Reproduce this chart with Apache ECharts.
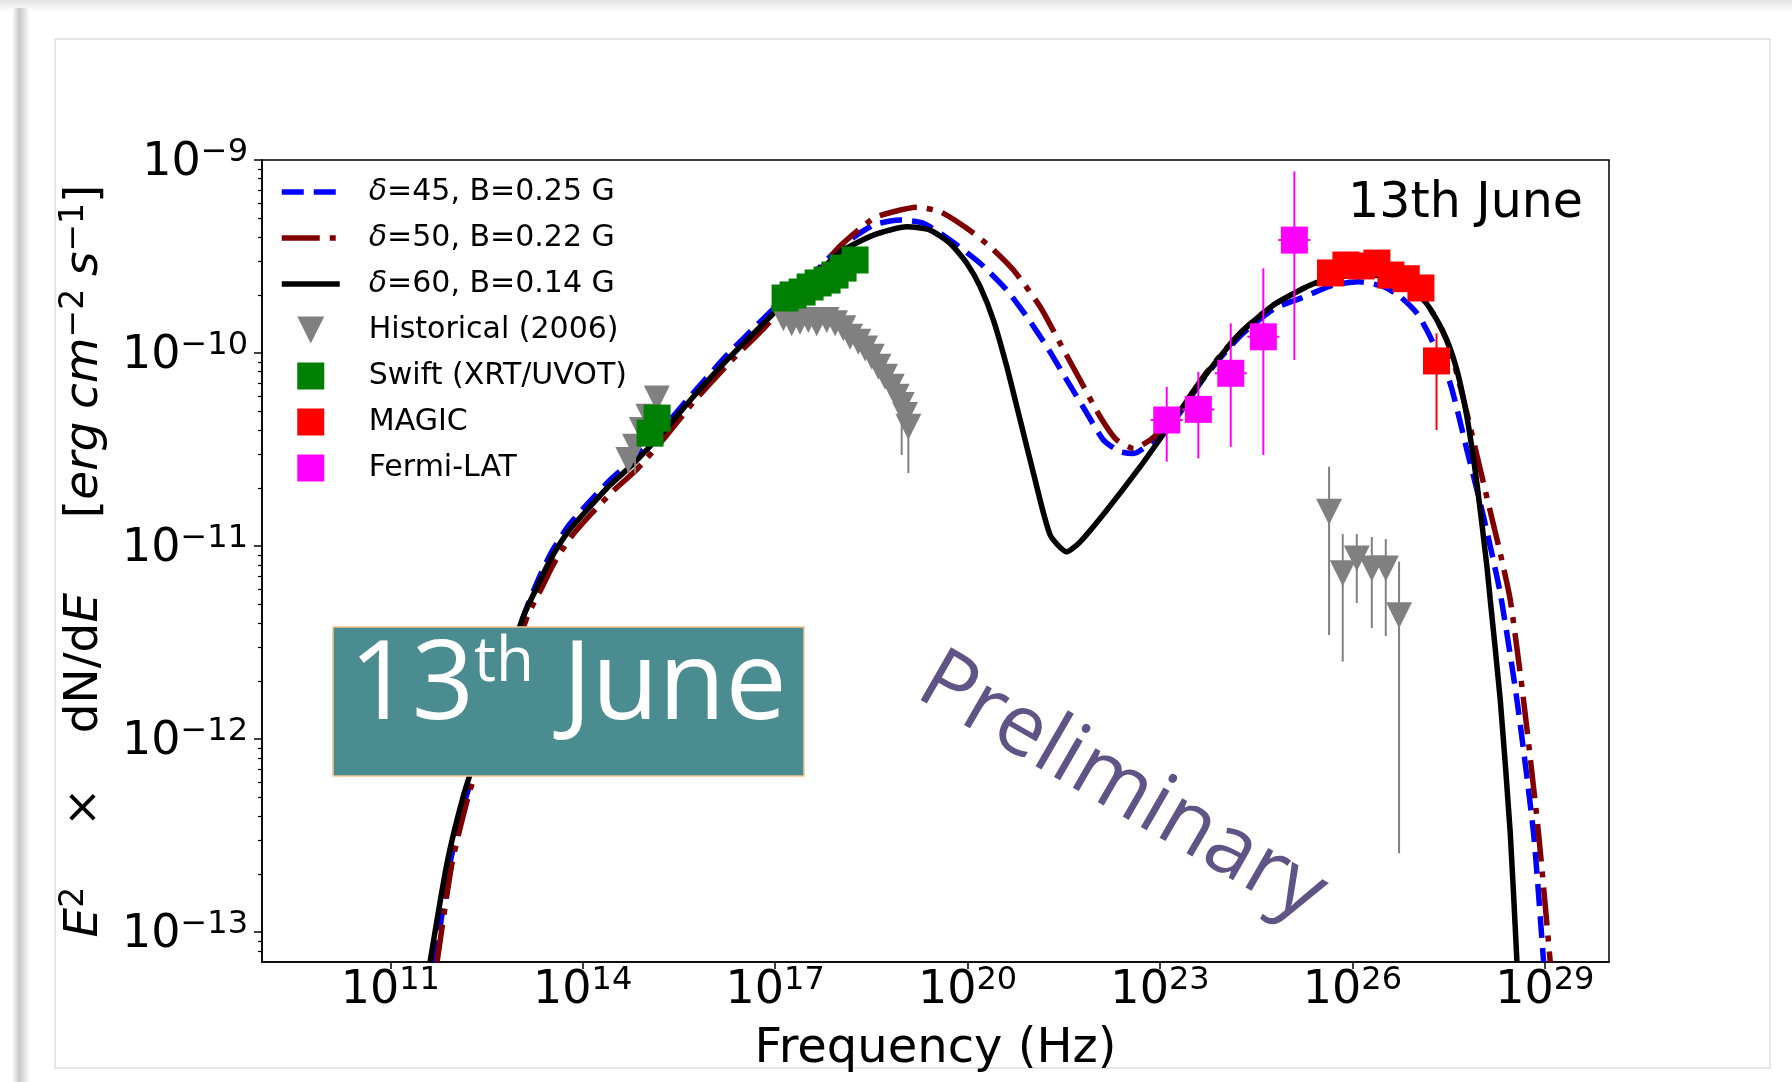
<!DOCTYPE html>
<html>
<head>
<meta charset="utf-8">
<title>SED 13th June</title>
<script src="https://cdn.jsdelivr.net/npm/echarts@6/dist/echarts.min.js"></script>
<style>
html, body { margin: 0; padding: 0; background: #fff; }
#sed-chart { width: 1792px; height: 1082px; }
</style>
</head>
<body>
<div id="sed-chart"></div>
<script>
// all values are log10(frequency / Hz) and log10(E^2 dN/dE / erg cm^-2 s^-1)

// model delta=45, B=0.25 G
const blueLogNu = [11.698, 11.932, 12.181, 12.399, 13.101, 13.304, 13.506, 13.787, 14.099, 14.458, 14.816, 15.253, 15.721, 16.251, 16.765, 17.233, 17.623, 18.013, 18.532, 18.948, 19.312, 19.728, 20.196, 20.612, 20.924, 21.236, 21.548, 21.860, 22.119, 22.379, 22.587, 22.847, 23.003, 23.210, 23.731, 24.250, 24.770, 25.186, 25.705, 26.095, 26.485, 26.745, 27.005, 27.213, 27.524, 27.785, 28.044, 28.305, 28.565, 28.824, 28.980]
const blueLogFlux = [-13.155, -12.642, -12.301, -12.073, -11.342, -11.176, -11.036, -10.891, -10.772, -10.648, -10.544, -10.389, -10.207, -10.010, -9.839, -9.689, -9.580, -9.451, -9.337, -9.311, -9.328, -9.415, -9.535, -9.674, -9.812, -9.967, -10.140, -10.312, -10.451, -10.511, -10.520, -10.468, -10.408, -10.355, -10.109, -9.912, -9.772, -9.717, -9.648, -9.631, -9.656, -9.708, -9.794, -9.916, -10.157, -10.503, -10.848, -11.245, -11.798, -12.489, -13.155]

// model delta=50, B=0.22 G
const redLogNu = [11.729, 11.963, 12.212, 12.431, 13.132, 13.351, 13.553, 13.818, 14.130, 14.489, 14.848, 15.300, 15.752, 16.282, 16.797, 17.249, 17.639, 18.013, 18.532, 18.844, 19.209, 19.572, 19.988, 20.352, 20.715, 21.132, 21.443, 21.755, 22.067, 22.327, 22.587, 22.847, 23.050, 23.210, 23.731, 24.250, 24.770, 25.290, 25.705, 26.215, 26.745, 27.109, 27.318, 27.525, 27.785, 28.044, 28.305, 28.461, 28.668, 28.902, 29.084]
const redLogFlux = [-13.155, -12.642, -12.301, -12.073, -11.368, -11.223, -11.088, -10.953, -10.834, -10.710, -10.601, -10.430, -10.244, -10.052, -9.881, -9.720, -9.591, -9.446, -9.302, -9.268, -9.245, -9.268, -9.354, -9.449, -9.570, -9.760, -9.950, -10.140, -10.330, -10.451, -10.494, -10.451, -10.389, -10.342, -10.098, -9.896, -9.751, -9.658, -9.611, -9.591, -9.632, -9.725, -9.829, -9.984, -10.312, -10.675, -11.038, -11.280, -11.798, -12.489, -13.155]

// model delta=60, B=0.14 G
const blackLogNu = [11.620, 11.885, 12.134, 12.353, 13.070, 13.288, 13.491, 13.756, 14.068, 14.426, 14.785, 15.253, 15.721, 16.251, 16.765, 17.233, 17.623, 18.013, 18.532, 19.053, 19.416, 19.728, 19.988, 20.196, 20.403, 20.612, 20.820, 21.027, 21.288, 21.548, 21.756, 22.172, 22.691, 23.210, 23.731, 24.250, 24.770, 25.290, 25.705, 26.215, 26.745, 27.109, 27.318, 27.473, 27.629, 27.785, 27.941, 28.097, 28.149, 28.305, 28.461, 28.565]
const blackLogFlux = [-13.155, -12.642, -12.301, -12.073, -11.368, -11.212, -11.073, -10.933, -10.813, -10.684, -10.575, -10.409, -10.228, -10.036, -9.865, -9.710, -9.601, -9.477, -9.389, -9.346, -9.363, -9.432, -9.535, -9.656, -9.829, -10.071, -10.347, -10.623, -10.943, -11.030, -10.978, -10.813, -10.589, -10.347, -10.105, -9.898, -9.751, -9.656, -9.605, -9.591, -9.632, -9.725, -9.829, -9.933, -10.088, -10.330, -10.675, -11.107, -11.280, -11.798, -12.489, -13.155]

// historical (2006) points, optical/X-ray and TeV upper limits
const histLogNu = [14.712, 14.816, 14.921, 15.024, 15.155, 17.128, 17.258, 17.388, 17.517, 17.648, 17.804, 17.934, 18.063, 18.168, 18.297, 18.402, 18.506, 18.609, 18.713, 18.818, 18.896, 18.973, 19.025, 19.077, 25.636, 25.849, 26.068, 26.302, 26.520, 26.727]
const histLogFlux = [-10.554, -10.485, -10.399, -10.330, -10.235, -9.820, -9.846, -9.838, -9.829, -9.846, -9.829, -9.846, -9.872, -9.916, -9.941, -9.976, -10.019, -10.071, -10.123, -10.175, -10.226, -10.269, -10.321, -10.382, -10.822, -11.141, -11.064, -11.116, -11.116, -11.358]
const histBarNu = [14.712, 14.816, 18.973, 19.077, 25.636, 25.849, 26.068, 26.302, 26.520, 26.727]
const histBarLo = [-10.623, -10.623, -10.528, -10.622, -11.461, -11.599, -11.295, -11.425, -11.466, -12.592]
const histBarHi = [-10.554, -10.485, -10.269, -10.382, -10.589, -10.938, -10.938, -10.953, -10.964, -11.081]

// Swift XRT/UVOT
const swiftLogNu = [15.050, 15.159, 17.155, 17.280, 17.420, 17.545, 17.670, 17.810, 17.934, 18.059, 18.246]
const swiftLogFlux = [-10.415, -10.337, -9.715, -9.699, -9.684, -9.658, -9.637, -9.622, -9.596, -9.560, -9.518]

// MAGIC
const magicLogNu = [25.658, 25.898, 26.137, 26.382, 26.600, 26.839, 27.068, 27.311]
const magicLogFlux = [-9.585, -9.544, -9.549, -9.534, -9.596, -9.615, -9.663, -10.041]
const magicErrLo = [-9.585, -9.544, -9.549, -9.534, -9.596, -9.615, -9.663, -10.399]
const magicErrHi = [-9.585, -9.544, -9.549, -9.534, -9.596, -9.615, -9.663, -9.898]

// Fermi-LAT
const fermiLogNu = [23.105, 23.598, 24.103, 24.611, 25.095]
const fermiLogFlux = [-10.347, -10.292, -10.105, -9.916, -9.415]
const fermiErrLo = [-10.563, -10.546, -10.486, -10.528, -10.036]
const fermiErrHi = [-10.175, -10.097, -9.846, -9.561, -9.059]
const fermiHalfBin = [0.25, 0.25, 0.25, 0.25, 0.25]

const xTicks = [11, 14, 17, 20, 23, 26, 29]
const yTicks = [-13, -12, -11, -10, -9]
const seriesNames = ['δ=45, B=0.25 G', 'δ=50, B=0.22 G', 'δ=60, B=0.14 G', 'Historical (2006)', 'Swift (XRT/UVOT)', 'MAGIC', 'Fermi-LAT']

const X_MIN = 9
const X_MAX = 30
const Y_MIN = Math.log10(7e-14)
const Y_MAX = -9

const FONT = '"DejaVu Sans", sans-serif'
const SLIDE_FONT = '"Open Sans", sans-serif'
const TRIANGLE_DOWN = 'path://M0,0L10,0L5,10Z'
const SQUARE = 'path://M0,0L10,0L10,10L0,10Z'

// matplotlib style dash patterns
const BLUE_DASH = [22, 10]
const RED_DASH_DOT = [38, 10, 6, 10]
const LINE_WIDTH = 5.5

const zip = (xs, ys) => xs.map((x, i) => [x, ys[i]])

// log minor ticks, 2..9 x 10^n
const yMinorTicks = []
for (let e = -14; e <= -10; e++) {
  for (let k = 2; k <= 9; k++) {
    const v = e + Math.log10(k)
    if (v > Y_MIN + 0.001 && v < Y_MAX) {
      yMinorTicks.push(v)
    }
  }
}

const powerRich = {
  m: {fontFamily: FONT, fontSize: 46, lineHeight: 46, padding: [6, 0, 0, 0], color: '#000'},
  s: {fontFamily: FONT, fontSize: 32, lineHeight: 32, verticalAlign: 'top', color: '#000'}
}

const errorBars = (color) => (params, api) => {
  const x = api.value(0)
  const lo = api.coord([x, api.value(1)])
  const hi = api.coord([x, api.value(2)])
  const children = [{
    type: 'line',
    shape: {x1: lo[0], y1: lo[1], x2: hi[0], y2: hi[1]},
    style: {stroke: color, lineWidth: 2}
  }]
  const halfBin = api.value(3)
  if (halfBin > 0) {
    const left = api.coord([x - halfBin, api.value(4)])
    const right = api.coord([x + halfBin, api.value(4)])
    children.push({
      type: 'line',
      shape: {x1: left[0], y1: left[1], x2: right[0], y2: right[1]},
      style: {stroke: color, lineWidth: 2}
    })
  }
  return {type: 'group', children}
}

const modelLine = (name, xs, ys, color, dash) => ({
  name,
  type: 'line',
  data: zip(xs, ys),
  symbol: 'none',
  showSymbol: false,
  smooth: 0.2,
  clip: true,
  silent: true,
  z: 3,
  lineStyle: {color, width: LINE_WIDTH, type: dash}
})

const chart = echarts.init(document.getElementById('sed-chart'))

const option = {
  animation: false,
  backgroundColor: '#ffffff',
  grid: {
    left: 262,
    top: 160,
    width: 1347,
    height: 802,
    show: true,
    borderColor: '#000',
    borderWidth: 1.5
  },
  legend: {
    orient: 'vertical',
    left: 279,
    top: 177,
    padding: 0,
    itemGap: 16,
    itemWidth: 58,
    itemHeight: 27,
    selectedMode: false,
    data: [
      {name: seriesNames[0], itemStyle: {opacity: 0}, lineStyle: {width: LINE_WIDTH, type: BLUE_DASH, color: '#0000ff'}},
      {name: seriesNames[1], itemStyle: {opacity: 0}, lineStyle: {width: LINE_WIDTH, type: RED_DASH_DOT, color: '#800000'}},
      {name: seriesNames[2], itemStyle: {opacity: 0}, lineStyle: {width: LINE_WIDTH, type: 'solid', color: '#000000'}},
      {name: seriesNames[3], icon: TRIANGLE_DOWN},
      {name: seriesNames[4], icon: SQUARE},
      {name: seriesNames[5], icon: SQUARE},
      {name: seriesNames[6], icon: SQUARE}
    ],
    formatter: (name) => name.charAt(0) === 'δ' ? '{it|δ}' + name.slice(1) : name,
    textStyle: {
      fontFamily: FONT,
      fontSize: 30,
      color: '#000',
      padding: [0, 0, 0, 24],
      rich: {
        it: {fontFamily: FONT, fontSize: 30, fontStyle: 'italic', color: '#000'}
      }
    }
  },
  xAxis: {
    type: 'value',
    min: X_MIN,
    max: X_MAX,
    axisLine: {onZero: false, lineStyle: {color: '#000', width: 1.5}},
    axisTick: {customValues: xTicks, length: 7, lineStyle: {color: '#000', width: 1.5}},
    axisLabel: {
      customValues: xTicks,
      margin: 3,
      formatter: (v) => '{m|10}{s|' + v + '}',
      rich: powerRich
    },
    splitLine: {show: false},
    name: 'Frequency (Hz)',
    nameLocation: 'middle',
    nameGap: 64,
    nameTextStyle: {fontFamily: FONT, fontSize: 48, color: '#000'}
  },
  yAxis: [
    {
      type: 'value',
      min: Y_MIN,
      max: Y_MAX,
      axisLine: {onZero: false, lineStyle: {color: '#000', width: 1.5}},
      axisTick: {customValues: yTicks, length: 8, lineStyle: {color: '#000', width: 1.5}},
      axisLabel: {
        customValues: yTicks,
        margin: 14,
        formatter: (v) => '{m|10}{s|\u2212' + Math.abs(v) + '}',
        rich: powerRich
      },
      splitLine: {show: false},
      name: '{i|E}{s|2}{n|    \u00d7}{g| }{n|   dN/d}{i|E}{n|     [}{i|erg}{t| }{i|cm}{s|\u22122}{t| }{i|s}{s|\u22121}{n|]}',
      nameLocation: 'middle',
      nameRotate: 90,
      nameGap: 157,
      nameTextStyle: {
        color: '#000',
        rich: {
          n: {fontFamily: FONT, fontSize: 47, lineHeight: 47, padding: [7, 0, 0, 0], color: '#000'},
          i: {fontFamily: FONT, fontSize: 47, lineHeight: 47, padding: [7, 0, 0, 0], fontStyle: 'italic', color: '#000'},
          s: {fontFamily: FONT, fontSize: 33, lineHeight: 33, verticalAlign: 'top', color: '#000'},
          t: {fontFamily: FONT, fontSize: 40, lineHeight: 40, color: '#000'},
          g: {fontFamily: FONT, fontSize: 30, lineHeight: 30, color: '#000'}
        }
      }
    },
    {
      // minor log ticks only
      type: 'value',
      min: Y_MIN,
      max: Y_MAX,
      position: 'left',
      axisLine: {show: false},
      axisTick: {customValues: yMinorTicks, length: 4, lineStyle: {color: '#000', width: 1.2}},
      axisLabel: {show: false},
      splitLine: {show: false}
    }
  ],
  series: [
    modelLine(seriesNames[0], blueLogNu, blueLogFlux, '#0000ff', BLUE_DASH),
    modelLine(seriesNames[1], redLogNu, redLogFlux, '#800000', RED_DASH_DOT),
    modelLine(seriesNames[2], blackLogNu, blackLogFlux, '#000000', 'solid'),
    {
      type: 'custom',
      silent: true,
      z: 4,
      renderItem: errorBars('#808080'),
      data: histBarNu.map((x, i) => [x, histBarLo[i], histBarHi[i], 0, 0])
    },
    {
      name: seriesNames[3],
      type: 'scatter',
      silent: true,
      z: 4,
      symbol: TRIANGLE_DOWN,
      symbolSize: 26,
      itemStyle: {color: '#808080', opacity: 1},
      data: zip(histLogNu, histLogFlux)
    },
    {
      name: seriesNames[4],
      type: 'scatter',
      silent: true,
      z: 4,
      symbol: 'rect',
      symbolSize: 27,
      itemStyle: {color: '#008000', opacity: 1},
      data: zip(swiftLogNu, swiftLogFlux)
    },
    {
      type: 'custom',
      silent: true,
      z: 4,
      renderItem: errorBars('#ff0000'),
      data: magicLogNu.map((x, i) => [x, magicErrLo[i], magicErrHi[i], 0, 0])
    },
    {
      name: seriesNames[5],
      type: 'scatter',
      silent: true,
      z: 4,
      symbol: 'rect',
      symbolSize: 27,
      itemStyle: {color: '#ff0000', opacity: 1},
      data: zip(magicLogNu, magicLogFlux)
    },
    {
      type: 'custom',
      silent: true,
      z: 4,
      renderItem: errorBars('#ff00ff'),
      data: fermiLogNu.map((x, i) => [x, fermiErrLo[i], fermiErrHi[i], fermiHalfBin[i], fermiLogFlux[i]])
    },
    {
      name: seriesNames[6],
      type: 'scatter',
      silent: true,
      z: 4,
      symbol: 'rect',
      symbolSize: 27,
      itemStyle: {color: '#ff00ff', opacity: 1},
      data: zip(fermiLogNu, fermiLogFlux)
    }
  ],
  graphic: {
    elements: [
      // slide frame
      {
        type: 'rect', z: -10, silent: true,
        shape: {x: 0, y: 0, width: 1792, height: 12},
        style: {fill: {type: 'linear', x: 0, y: 0, x2: 0, y2: 1, colorStops: [{offset: 0, color: '#e4e4e4'}, {offset: 1, color: '#ffffff'}]}}
      },
      {
        type: 'rect', z: -10, silent: true,
        shape: {x: 12, y: 8, width: 18, height: 1074},
        style: {fill: {type: 'linear', x: 0, y: 0, x2: 1, y2: 0, colorStops: [{offset: 0, color: '#ffffff'}, {offset: 0.4, color: '#c8c8c8'}, {offset: 1, color: '#ffffff'}]}}
      },
      {
        type: 'rect', z: -10, silent: true,
        shape: {x: 55, y: 39, width: 1715, height: 1029},
        style: {fill: null, stroke: '#dedede', lineWidth: 1.5}
      },
      {
        type: 'text', z: 50, silent: true,
        x: 1583, y: 204,
        style: {text: '13th June', fontFamily: FONT, fontSize: 49, fill: '#000', align: 'right', verticalAlign: 'middle'}
      },
      {
        type: 'rect', z: 100, silent: true,
        shape: {x: 333, y: 627, width: 471, height: 149},
        style: {fill: '#4b8c91', stroke: '#f5c38e', lineWidth: 1.5}
      },
      {
        type: 'text', z: 101, silent: true,
        x: 568, y: 688,
        style: {
          text: '{a|13}{b|th}{a| June}',
          align: 'center',
          verticalAlign: 'middle',
          rich: {
            a: {fontFamily: SLIDE_FONT, fontSize: 109, lineHeight: 112, fill: '#fff', color: '#fff'},
            b: {fontFamily: SLIDE_FONT, fontSize: 62, lineHeight: 62, verticalAlign: 'top', fill: '#fff', color: '#fff'}
          }
        }
      },
      {
        type: 'text', z: 100, silent: true,
        x: 1122, y: 788,
        rotation: -Math.PI / 6,
        style: {text: 'Preliminary', fontFamily: SLIDE_FONT, fontSize: 85, fill: '#5f5485', align: 'center', verticalAlign: 'middle'}
      }
    ]
  }
}

chart.setOption(option)
</script>
</body>
</html>
